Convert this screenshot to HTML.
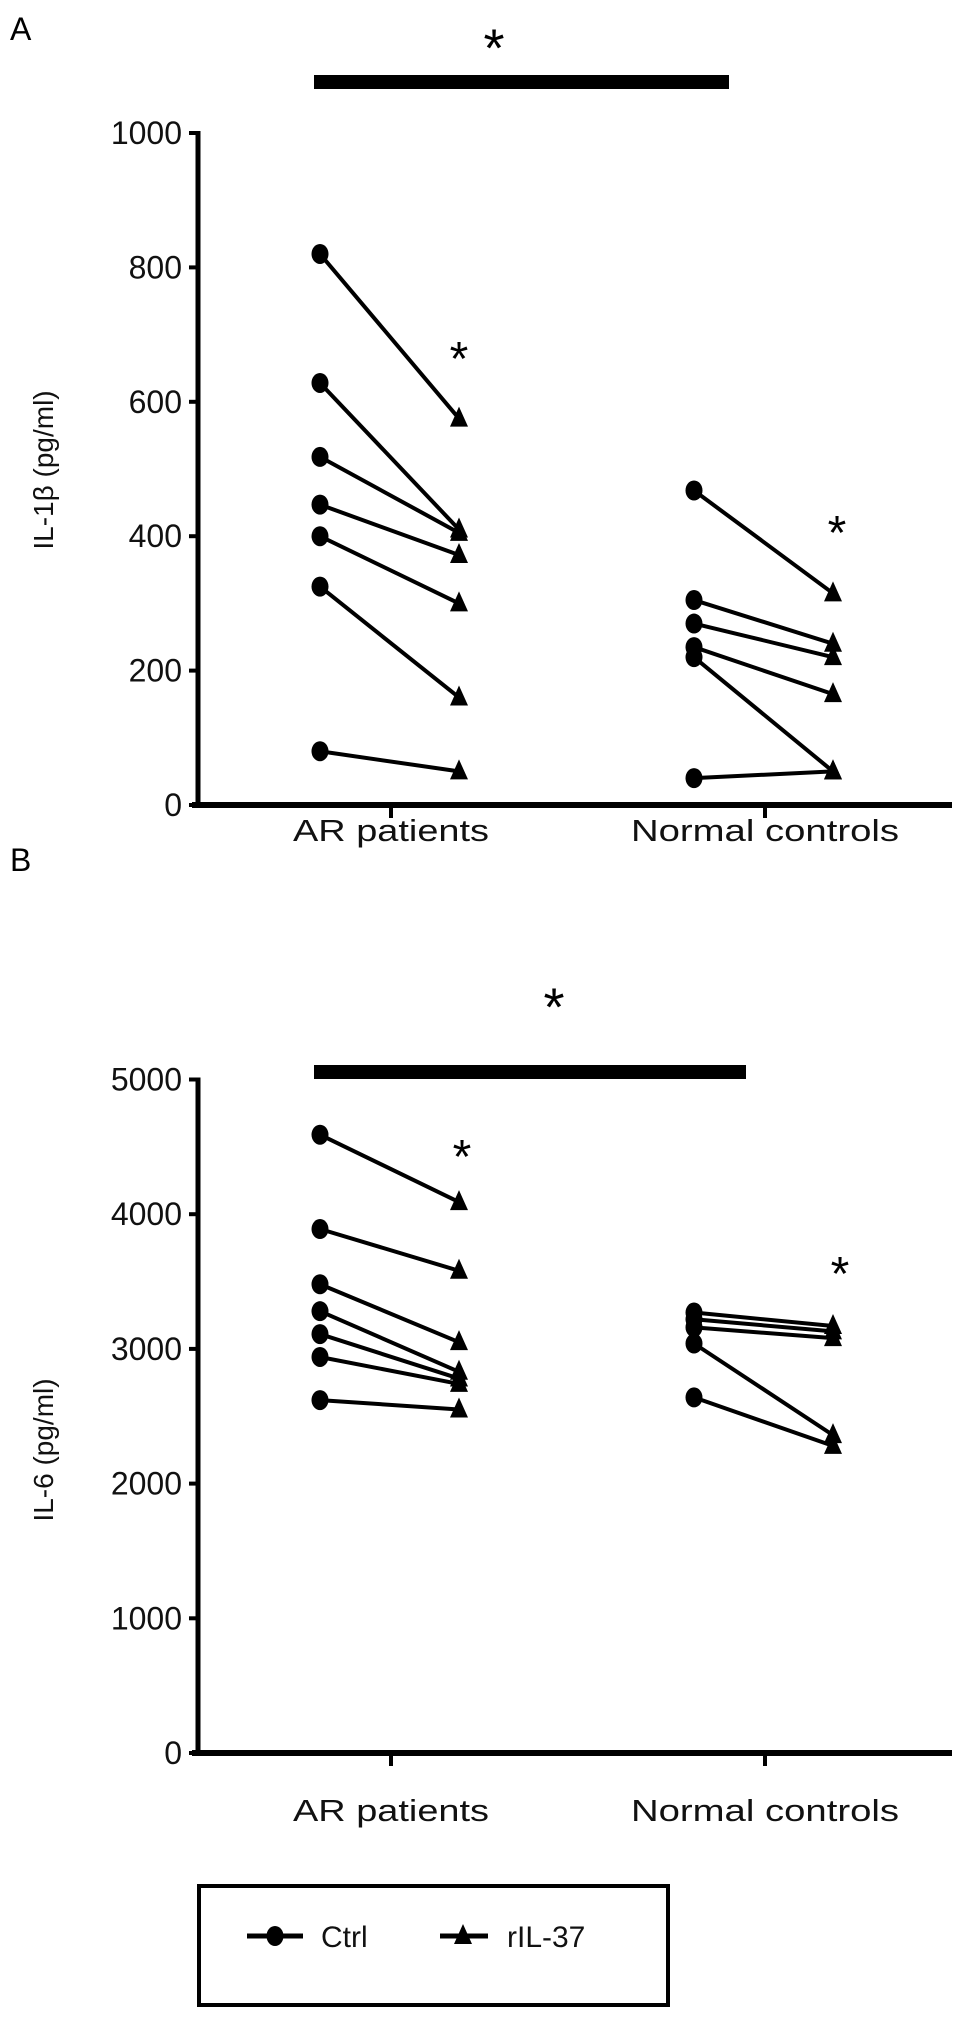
<!DOCTYPE html>
<html><head><meta charset="utf-8"><style>
html,body{margin:0;padding:0;background:#fff;}
svg{display:block;font-family:"Liberation Sans",Arial,sans-serif;}
</style></head><body>
<svg id="fig" width="969" height="2024" viewBox="0 0 969 2024"></svg>
<script>
const categories = ["AR patients", "Normal controls"];
const seriesNames = ["Ctrl", "rIL-37"];
// Panel A: IL-1β
const aTicks = [0, 200, 400, 600, 800, 1000];
const aArCtrl = [820, 628, 518, 447, 400, 325, 80];
const aArRil  = [575, 410, 405, 372, 300, 160, 50];
const aNcCtrl = [468, 305, 270, 235, 220, 40];
const aNcRil  = [315, 240, 220, 165, 50, 50];
// Panel B: IL-6
const bTicks = [0, 1000, 2000, 3000, 4000, 5000];
const bArCtrl = [4590, 3890, 3480, 3280, 3110, 2940, 2620];
const bArRil  = [4090, 3580, 3050, 2830, 2780, 2740, 2550];
const bNcCtrl = [3270, 3220, 3160, 3040, 2640];
const bNcRil  = [3170, 3130, 3080, 2360, 2280];

const NS = "http://www.w3.org/2000/svg";
const svg = document.getElementById('fig');
function mk(tag, attrs, parent, txt){
  const e = document.createElementNS(NS, tag);
  for (const k in attrs) e.setAttribute(k, attrs[k]);
  if (txt !== undefined) e.textContent = txt;
  (parent || svg).appendChild(e);
  return e;
}
function circle(g, x, y){ return mk('ellipse', {cx:x, cy:y, rx:8.5, ry:10, fill:'#000'}, g); }
function tri(g, x, y){ return mk('polygon', {points:`${x},${y-12} ${x+9},${y+8} ${x-9},${y+8}`, fill:'#000'}, g); }
function star(x, y, fs){
  const t = mk('text', {x:x, y:y + fs*0.42, 'font-size':fs, 'text-anchor':'middle', fill:'#000'}, svg, '*');
  
  
}

const axX = 198, axRight = 952;
const catX = [391, 765];
const ctrlOff = -71, rilOff = 68;

function panel(opts){
  const {y0, pxPerUnit, ticks, max, title, titleY, label, labelY, catLabelDy, arC, arR, ncC, ncR, name} = opts;
  const ys = v => y0 - v * pxPerUnit;
  const yTop = ys(max);
  const g = mk('g', {});
  
  
  const pl = mk('text', {x:10, y:labelY, 'font-size':32, fill:'#000'}, g, label);
  
  
  const ya = mk('line', {x1:axX, y1:yTop-2, x2:axX, y2:y0, stroke:'#000', 'stroke-width':5}, g);
  
  
  ticks.forEach(t => {
    const y = ys(t);
    const tk = mk('line', {x1:axX-9, y1:y, x2:axX, y2:y, stroke:'#000', 'stroke-width':4}, g);
    
    
    const tl = mk('text', {x:axX-16, y:y+11, 'font-size':32, 'text-anchor':'end', fill:'#111'}, g, String(t));
    
    
  });
  const yt = mk('text', {x:0, y:0, 'font-size':28, 'text-anchor':'middle', fill:'#111',
    transform:`translate(53,${titleY}) rotate(-90)`}, g, title);
  
  
  const xa = mk('line', {x1:axX-6, y1:y0, x2:axRight, y2:y0, stroke:'#000', 'stroke-width':6}, g);
  
  
  categories.forEach((c, i) => {
    const tk = mk('line', {x1:catX[i], y1:y0, x2:catX[i], y2:y0+13, stroke:'#000', 'stroke-width':4}, g);
    
    
    const tl = mk('text', {x:catX[i], y:y0+catLabelDy, 'font-size':31, 'text-anchor':'middle', fill:'#111',
      textLength: i===0 ? 196 : 268, lengthAdjust:'spacingAndGlyphs'}, g, c);
    
    
  });
  [[arC, arR, 0], [ncC, ncR, 1]].forEach(([cv, rv, ci]) => {
    const xc = catX[ci] + ctrlOff, xr = catX[ci] + rilOff;
    cv.forEach((v, k) => {
      const ln = mk('line', {x1:xc, y1:ys(v), x2:xr, y2:ys(rv[k]), stroke:'#000', 'stroke-width':4}, g);
      
      
    });
    cv.forEach(v => {
      const c = circle(g, xc, ys(v));
      
      
    });
    rv.forEach(v => {
      const t = tri(g, xr, ys(v));
      
      
    });
  });
  return ys;
}

panel({y0:805, pxPerUnit:0.672, ticks:aTicks, max:1000, title:"IL-1β (pg/ml)", titleY:470,
  label:"A", labelY:40, catLabelDy:36, arC:aArCtrl, arR:aArRil, ncC:aNcCtrl, ncR:aNcRil, name:'panel-a-il1b'});
panel({y0:1753, pxPerUnit:0.1347, ticks:bTicks, max:5000, title:"IL-6 (pg/ml)", titleY:1450,
  label:"B", labelY:871, catLabelDy:68, arC:bArCtrl, arR:bArRil, ncC:bNcCtrl, ncR:bNcRil, name:'panel-b-il6'});

const barA = mk('rect', {x:314, y:75, width:415, height:14, fill:'#000'});


const barB = mk('rect', {x:314, y:1065, width:432, height:14, fill:'#000'});


star(494, 44, 54);
star(554, 1003, 54);
star(459, 355, 48);
star(837, 529, 48);
star(462, 1153, 48);
star(840, 1270, 48);

const lg = mk('g', {});


mk('rect', {x:199, y:1886, width:469, height:119, fill:'none', stroke:'#000', 'stroke-width':4}, lg);
const e1 = mk('g', {}, lg);


mk('line', {x1:247, y1:1936, x2:303, y2:1936, stroke:'#000', 'stroke-width':5}, e1);
circle(e1, 275, 1936);
mk('text', {x:321, y:1947, 'font-size':30, fill:'#111'}, e1, seriesNames[0]);
const e2 = mk('g', {}, lg);


mk('line', {x1:440, y1:1936, x2:488, y2:1936, stroke:'#000', 'stroke-width':5}, e2);
tri(e2, 463, 1936);
mk('text', {x:507, y:1947, 'font-size':30, fill:'#111'}, e2, seriesNames[1]);
</script>
</body></html>
